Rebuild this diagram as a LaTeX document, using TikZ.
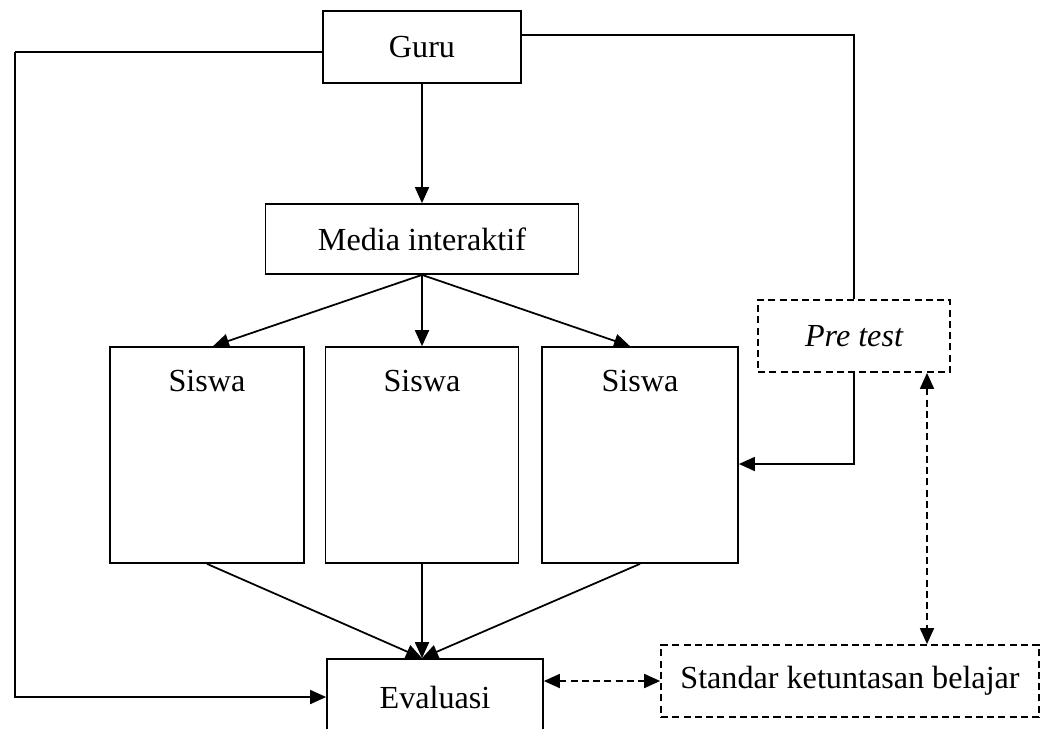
\documentclass[tikz,border=0pt]{standalone}
\usepackage{fontspec}
\setmainfont{Liberation Serif}
\usepackage{tikz}
\usetikzlibrary{arrows.meta,positioning}

\begin{document}
\begin{tikzpicture}[x=0.02cm, y=-0.02cm,
  box/.style={draw, line width=1pt, font=\fontsize{18.3}{22}\selectfont,
    inner sep=0pt, align=center},
  dbox/.style={box, dash pattern=on 4pt off 2.4pt},
  arr/.style={-{Triangle[length=0.32cm, width=0.28cm]}, line width=1pt},
  darr/.style={{Triangle[length=0.32cm, width=0.28cm]}-{Triangle[length=0.32cm, width=0.28cm]},
    line width=1pt, dash pattern=on 4pt off 2.4pt},
]
  \useasboundingbox (0,0) rectangle (1053,728);

  \node[box, minimum width=3.96cm, minimum height=1.44cm] (guru) at (422,47) {Guru};
  \node[box, minimum width=6.26cm, minimum height=1.4cm] (media) at (422,239) {Media interaktif};
  \node[box, minimum width=3.88cm, minimum height=4.32cm,
    label={[anchor=north, yshift=-0.36cm, font=\fontsize{18.3}{22}\selectfont]north:Siswa}] (siswa1) at (207,455) {};
  \node[box, minimum width=3.86cm, minimum height=4.32cm,
    label={[anchor=north, yshift=-0.36cm, font=\fontsize{18.3}{22}\selectfont]north:Siswa}] (siswa2) at (422,455) {};
  \node[box, minimum width=3.92cm, minimum height=4.32cm,
    label={[anchor=north, yshift=-0.36cm, font=\fontsize{18.3}{22}\selectfont]north:Siswa}] (siswa3) at (640,455) {};
  \node[box, minimum width=4.32cm, minimum height=1.52cm] (evaluasi) at (435,697) {Evaluasi};
  \node[dbox, minimum width=3.84cm, minimum height=1.44cm] (pretest) at (854,336) {\itshape Pre test};
  \node[dbox, minimum width=7.56cm, minimum height=1.44cm] (standar) at (850,681) {Standar ketuntasan belajar};

  \draw[arr] (guru) -- (media);
  \draw[arr] (media.south) -- ([xshift=0.12cm]siswa1.north);
  \draw[arr] (media.south) -- (siswa2.north);
  \draw[arr] (media.south) -- ([xshift=-0.2cm]siswa3.north);

  \draw[arr] (siswa1.south) -- ([xshift=-0.26cm]evaluasi.north);
  \draw[arr] (siswa2.south) -- ([xshift=-0.26cm]evaluasi.north);
  \draw[arr] (siswa3.south) -- ([xshift=-0.26cm]evaluasi.north);

  % loop kiri guru ke evaluasi
  \coordinate (kiri) at (15,52);
  \draw[line width=1pt] ([yshift=-0.1cm]guru.west) -- (kiri);
  \draw[arr] (kiri) |- (evaluasi.west);

  % jalur pre test
  \draw[line width=1pt] ([yshift=0.24cm]guru.east) -| (pretest.north);
  \draw[arr] (pretest.south) |- ([yshift=-0.18cm]siswa3.east);

  \draw[darr] ([xshift=1.46cm]pretest.south) -- ([xshift=1.46cm]pretest.south |- standar.north);
  \draw[darr] (standar.west -| evaluasi.east) -- (standar.west);
\end{tikzpicture}
\end{document}
